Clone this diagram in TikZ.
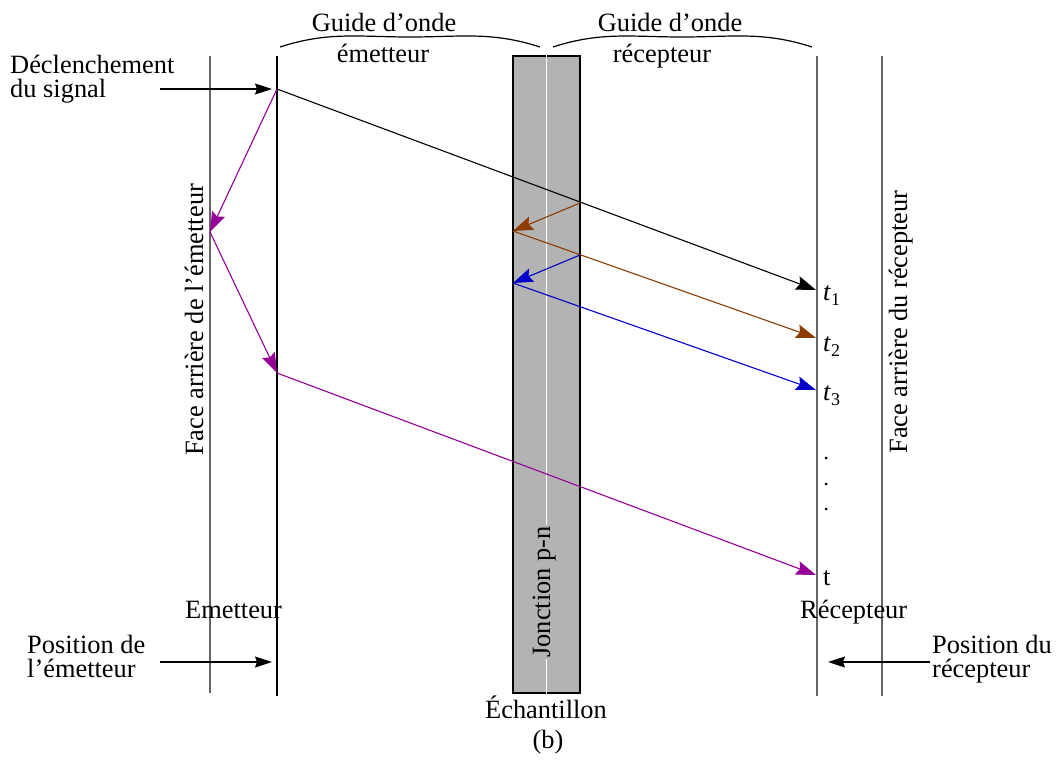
\documentclass[tikz,border=0pt]{standalone}
\usepackage{fontspec}
\setmainfont{Liberation Serif}
\usepackage{xcolor}
\usetikzlibrary{arrows.meta, positioning, calc}
\definecolor{samplegray}{RGB}{179,179,179}
\definecolor{wallgray}{RGB}{100,100,100}
\definecolor{pulsebrown}{RGB}{140,60,0}
\definecolor{pulseblue}{RGB}{0,0,200}
\definecolor{pulsepurple}{RGB}{150,0,150}
\newcommand{\tsub}[1]{\textit{t}\raisebox{-5pt}{\fontsize{18}{18}\selectfont #1}}
\tikzset{
  lbl/.style={
    inner sep=0pt,
    font=\fontsize{26.4}{24}\selectfont
  },
  wall/.style={line width=1.2pt, draw=wallgray},
  guide/.style={line width=1.1pt, draw=black},
  pulse/.style={-{Stealth[length=20pt,width=14pt,inset=3pt]}, line width=1.1pt},
  marker/.style={-{Stealth[length=17pt,width=11pt,inset=2pt]}, line width=1.1pt}
}
\begin{document}
\begin{tikzpicture}[x=1pt, y=-1pt]
\useasboundingbox (0,0) rectangle (1058,760);

% sample
\node[draw=black, line width=1.4pt, fill=samplegray, minimum width=67pt,
      minimum height=637pt, inner sep=0pt] (sample) at (546.5,374.5) {};
\draw[white, line width=1.1pt] (sample.north) -- (sample.south);
\node[lbl, rotate=90, fill=samplegray, inner sep=1pt, anchor=base] (jonction)
  at (550,592) {Jonction p-n};

% faces
\draw[wall] (210,56) -- (210,693);
\draw[guide] (277,56) -- (277,696);
\draw[wall] (817,56) -- (817,696);
\draw[wall] (882,56) -- (882,696);

% braces
\draw[line width=1.2pt] (280,47) to[out=18,in=180] (410,37) to[out=0,in=162] (540,47);
\draw[line width=1.2pt] (553,47) to[out=18,in=180] (682,37) to[out=0,in=162] (812,47);
\node[lbl, anchor=base] (guideE) at (384,32) {Guide d’onde};
\node[lbl, anchor=base] (emetE) at (383,63) {émetteur};
\node[lbl, anchor=base] (guideR) at (670,32) {Guide d’onde};
\node[lbl, anchor=base] (recepR) at (662,63) {récepteur};

% labels
\node[lbl, anchor=north west, align=left] (trigger) at (10,55)
{Déclenchement\\du signal};
\node[lbl, anchor=north west, align=left] (posE) at (27,635)
{Position de\\l’émetteur};
\node[lbl, anchor=north west, align=left] (posR) at (932,635)
{Position du\\récepteur};
\node[lbl, anchor=base west] (emetteur) at (185,618) {Emetteur};
\node[lbl, anchor=base west] (recepteur) at (800,618) {Récepteur};
\node[lbl, anchor=base] (echant) at (546,718) {Échantillon};
\node[lbl, anchor=base] (caption) at (548,748) {(b)};
\node[lbl, rotate=90, anchor=base] (backE) at (203,320) {Face arrière de l’émetteur};
\node[lbl, rotate=90, anchor=base] (backR) at (907,322) {Face arrière du récepteur};

% times
\node[lbl, anchor=base west] (t1) at (823,300) {\tsub{1}};
\node[lbl, anchor=base west] (t2) at (823,351) {\tsub{2}};
\node[lbl, anchor=base west] (t3) at (823,400) {\tsub{3}};
\node[lbl, anchor=base west] (tn) at (823,585) {t};
\foreach \y in {458,484,509}
  \fill (826,\y) circle (1.5pt);

% points on the faces
\coordinate (start) at (277,89);
\coordinate (backhit) at (210,232);
\coordinate (emret) at (277,373);
\coordinate (jbrown) at (580,203);
\coordinate (jblue) at (580,255);
\coordinate (sbrown) at (513,231);
\coordinate (sblue) at (513,283);
\coordinate (r1) at (816,290);
\coordinate (r2) at (816,338);
\coordinate (r3) at (816,390);
\coordinate (rn) at (816,575);

% markers
\coordinate (trigtail) at (160,89);
\coordinate (posEtail) at (160,662);
\coordinate (posEhead) at (272,662);
\coordinate (posRtail) at (930,662);
\coordinate (posRhead) at (828,662);
\draw[marker] (trigtail) -- ($(start)+(-5,0)$);
\draw[marker] (posEtail) -- (posEhead);
\draw[marker] (posRtail) -- (posRhead);

% pulses
\draw[pulse] (start) -- (r1);
\draw[pulse, pulsepurple] (start) -- (backhit);
\draw[pulse, pulsepurple] (backhit) -- (emret);
\draw[pulse, pulsepurple] (emret) -- (rn);
\draw[pulse, pulsebrown] (jbrown) -- (sbrown);
\draw[pulse, pulsebrown] (sbrown) -- (r2);
\draw[pulse, pulseblue] (jblue) -- (sblue);
\draw[pulse, pulseblue] (sblue) -- (r3);

\end{tikzpicture}
\end{document}
